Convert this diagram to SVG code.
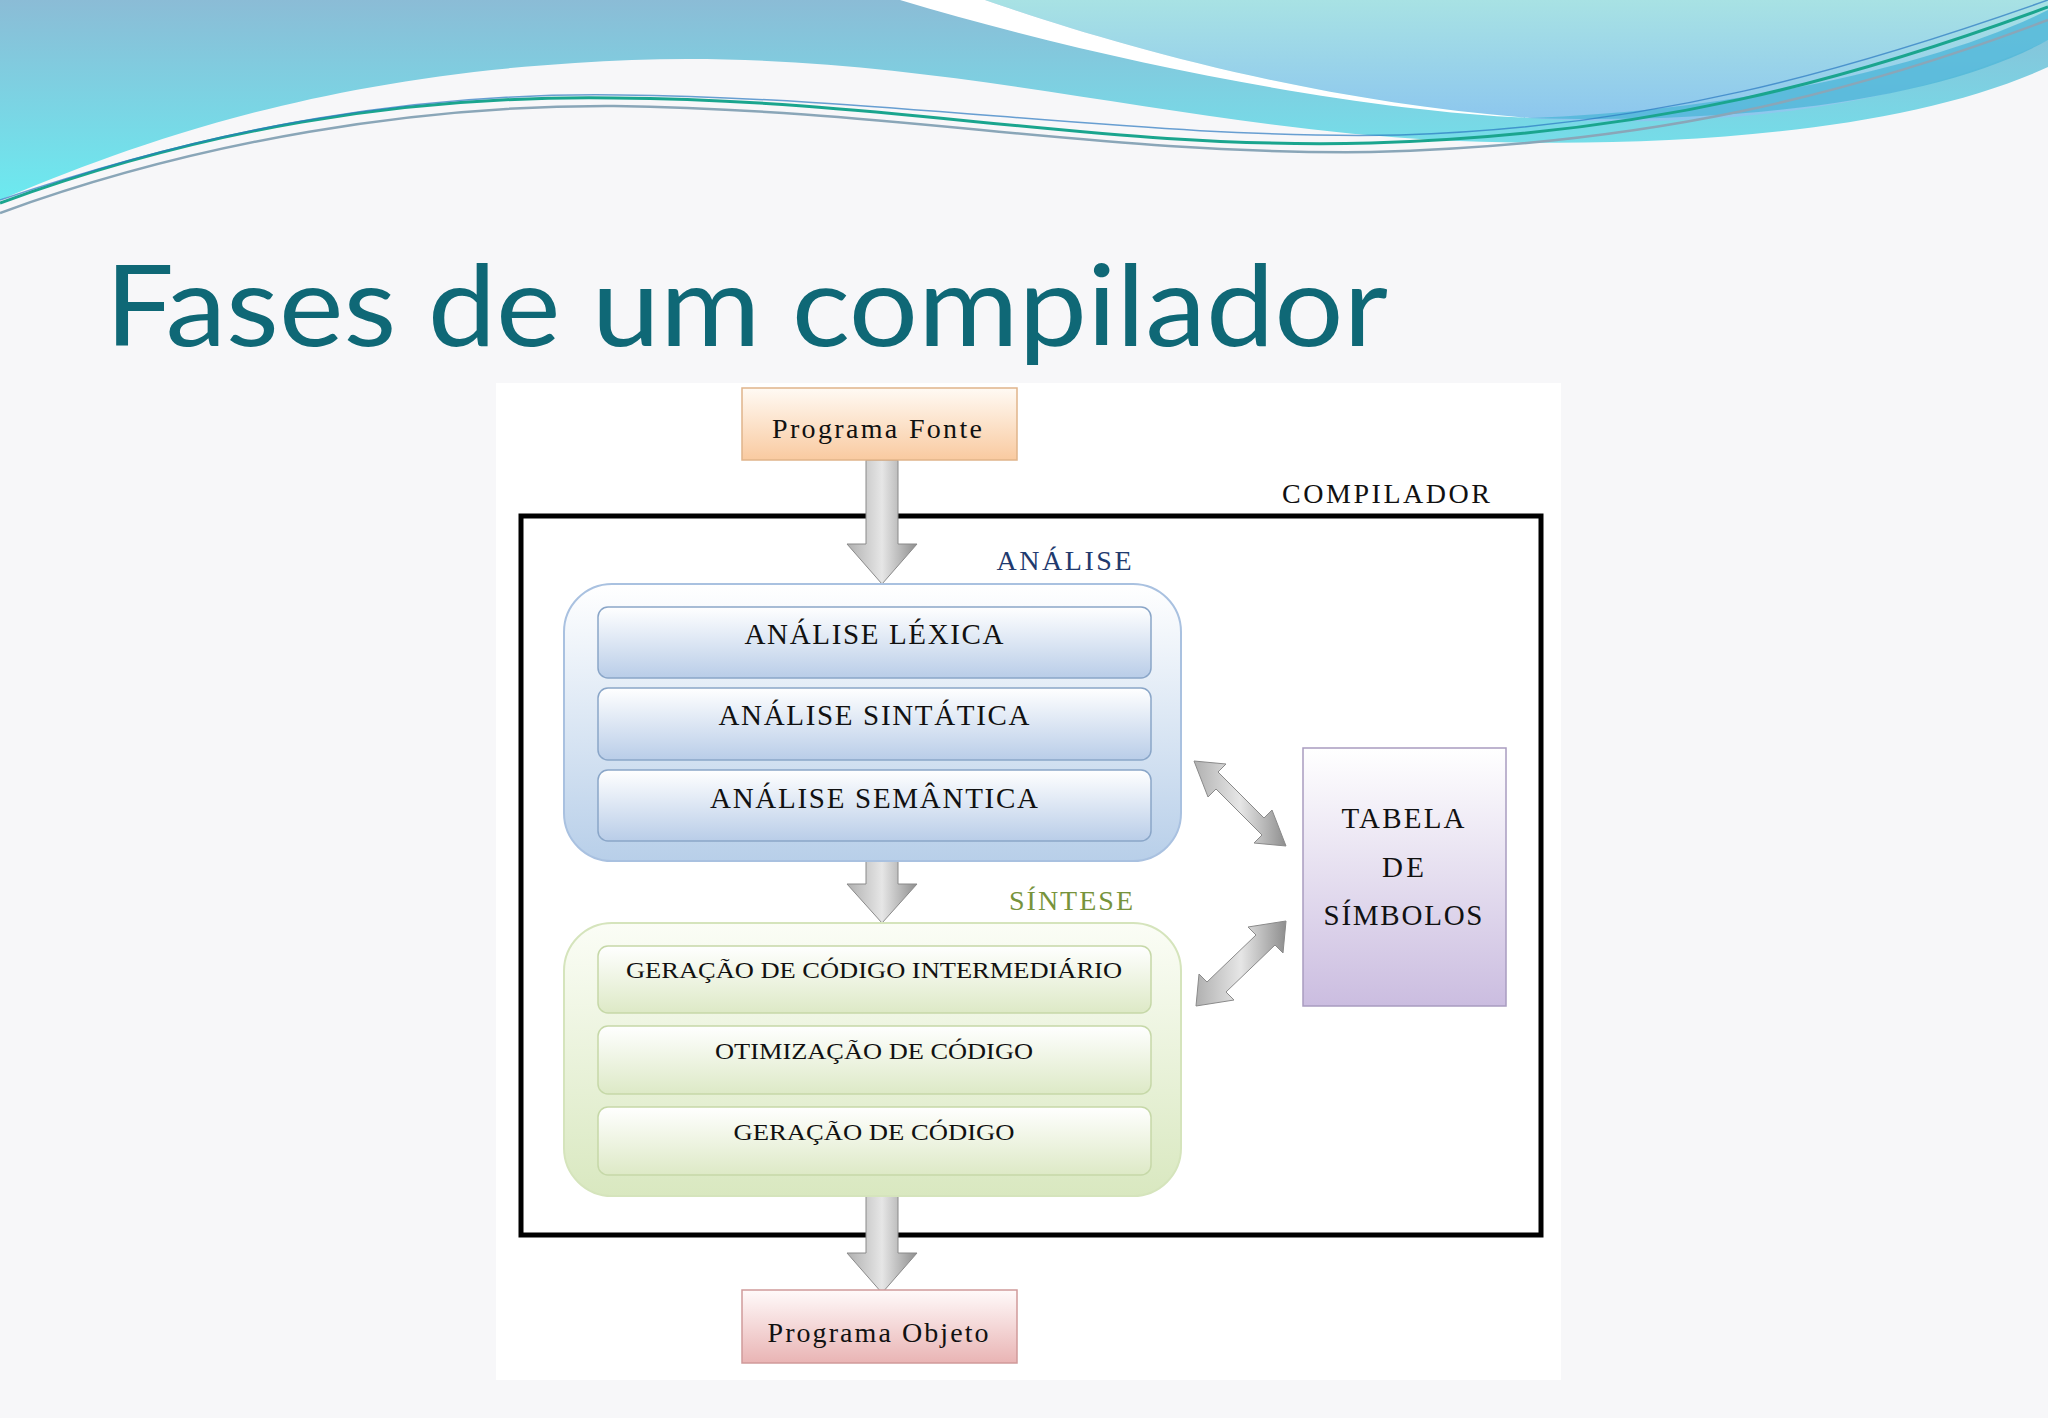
<svg xmlns="http://www.w3.org/2000/svg" width="2048" height="1418" viewBox="0 0 2048 1418">
<defs>
<linearGradient id="bgTop" x1="0" y1="0" x2="0" y2="1"><stop offset="0" stop-color="#8bbcd6"/><stop offset="1" stop-color="#6ceaf0"/></linearGradient>
<linearGradient id="bgTop2" x1="0" y1="0" x2="0" y2="1"><stop offset="0" stop-color="#a8e2e4"/><stop offset="1" stop-color="#8cc6ee"/></linearGradient>
<linearGradient id="gOrange" x1="0" y1="0" x2="0" y2="1"><stop offset="0" stop-color="#fffaf4"/><stop offset="1" stop-color="#f9caa0"/></linearGradient>
<linearGradient id="gPink" x1="0" y1="0" x2="0" y2="1"><stop offset="0" stop-color="#fffafa"/><stop offset="1" stop-color="#e9b4b4"/></linearGradient>
<linearGradient id="gLav" x1="0" y1="0" x2="0" y2="1"><stop offset="0" stop-color="#ffffff"/><stop offset="1" stop-color="#cbbde0"/></linearGradient>
<linearGradient id="gBlueC" x1="0" y1="0" x2="0" y2="1"><stop offset="0" stop-color="#ffffff"/><stop offset="1" stop-color="#b8cfe9"/></linearGradient>
<linearGradient id="gBlueB" x1="0" y1="0" x2="0" y2="1"><stop offset="0" stop-color="#ffffff"/><stop offset="1" stop-color="#b9cde8"/></linearGradient>
<linearGradient id="gGreenC" x1="0" y1="0" x2="0" y2="1"><stop offset="0" stop-color="#fbfdf6"/><stop offset="1" stop-color="#d9e8c0"/></linearGradient>
<linearGradient id="gGreenB" x1="0" y1="0" x2="0" y2="1"><stop offset="0" stop-color="#ffffff"/><stop offset="1" stop-color="#dde9c6"/></linearGradient>
<linearGradient id="gArrow" x1="0" y1="0" x2="1" y2="0"><stop offset="0" stop-color="#b0b0b0"/><stop offset="0.5" stop-color="#e6e6e6"/><stop offset="1" stop-color="#8e8e8e"/></linearGradient>
<style>
.t{font-family:"Liberation Serif","Times New Roman",serif;fill:#111;text-anchor:middle}
.sub{stroke:#8aa6c8;stroke-width:1.5}
.subg{stroke:#c6d8a8;stroke-width:1.5}
.arr{fill:url(#gArrow);stroke:#8a8a8a;stroke-width:1}
</style>
</defs>
<rect width="2048" height="1418" fill="#f7f7f9"/>
<path d="M0,0 H2048 V67 C1900,135 1650,150 1437,140 C1150,125 900,40 575,63 C300,80 120,150 0,200 Z" fill="url(#bgTop)"/>
<path d="M985,0 H2048 V40 C1900,110 1700,130 1530,118 C1300,100 1100,40 985,0 Z" fill="url(#bgTop2)"/>
<path d="M900,0 H985 C1100,40 1300,100 1530,118 C1350,110 1100,60 900,0 Z" fill="#ffffff"/>
<path d="M1530,118 C1750,110 1950,60 2048,10 V40 C1950,95 1760,125 1530,118 Z" fill="#4fb6d8" opacity="0.8"/>
<path d="M0,203 C200,130 400,95 614,98 C900,100 1100,150 1371,143 C1650,135 1850,80 2048,7" fill="none" stroke="#1aa58e" stroke-width="3"/>
<path d="M0,213 C200,140 420,105 614,106 C900,110 1100,155 1371,152 C1650,145 1850,95 2048,20" fill="none" stroke="#8aa6b8" stroke-width="2.5"/>
<path d="M0,200 C220,125 420,92 620,95 C900,98 1150,140 1400,135 C1650,128 1850,70 2048,0" fill="none" stroke="#2a78c0" stroke-width="1.5" opacity="0.7"/>
<text x="105" y="346" font-family="Lato,'Open Sans',sans-serif" font-size="112" fill="#0f6876" textLength="1283" lengthAdjust="spacingAndGlyphs">Fases de um compilador</text>
<rect x="496" y="383" width="1065" height="997" fill="#ffffff"/>
<g id="compilador">
<rect x="521" y="516" width="1020" height="719" fill="none" stroke="#000" stroke-width="5"/>
<text class="t" x="1386" y="503" font-size="28" textLength="208">COMPILADOR</text>
</g>
<g id="connectors">
<path class="arr" d="M866,460 H898 V544 H917 L882,584 L847,544 H866 Z"/>
<path class="arr" d="M866,861 H898 V884 H917 L882,923 L847,884 H866 Z"/>
<path class="arr" d="M866,1196 H898 V1253 H917 L882,1293 L847,1253 H866 Z"/>
<path class="arr" d="M1194,761 L1226,764 L1218,772 L1264,818 L1272,810 L1286,846 L1254,843 L1262,835 L1216,789 L1208,797 Z"/>
<path class="arr" d="M1286,921 L1283,953 L1275,945 L1226,992 L1234,1000 L1196,1006 L1199,974 L1207,982 L1256,935 L1248,927 Z"/>
</g>
<g id="programa-fonte">
<rect x="742" y="388" width="275" height="72" fill="url(#gOrange)" stroke="#e0b48a" stroke-width="1.5"/>
<text class="t" x="877" y="438" font-size="28" textLength="210">Programa Fonte</text>
</g>
<g id="analise">
<rect x="564" y="584" width="617" height="277" rx="48" fill="url(#gBlueC)" stroke="#a9c1e0" stroke-width="2"/>
<text x="1064" y="570" font-family="'Liberation Serif',serif" font-size="28" fill="#1f3a6e" text-anchor="middle" textLength="135">ANÁLISE</text>
</g>
<g id="analise-lexica"><rect class="sub" x="598" y="607" width="553" height="71" rx="10" fill="url(#gBlueB)"/><text class="t" x="874" y="644" font-size="29" textLength="259">ANÁLISE LÉXICA</text></g>
<g id="analise-sintatica"><rect class="sub" x="598" y="688" width="553" height="72" rx="10" fill="url(#gBlueB)"/><text class="t" x="874" y="725" font-size="29" textLength="311">ANÁLISE SINTÁTICA</text></g>
<g id="analise-semantica"><rect class="sub" x="598" y="770" width="553" height="71" rx="10" fill="url(#gBlueB)"/><text class="t" x="874" y="808" font-size="29" textLength="328">ANÁLISE SEMÂNTICA</text></g>
<g id="sintese">
<rect x="564" y="923" width="617" height="273" rx="48" fill="url(#gGreenC)" stroke="#d5e4bc" stroke-width="2"/>
<text x="1071" y="910" font-family="'Liberation Serif',serif" font-size="28" fill="#77933c" text-anchor="middle" textLength="124">SÍNTESE</text>
</g>
<g id="geracao-intermediario"><rect class="subg" x="598" y="946" width="553" height="67" rx="10" fill="url(#gGreenB)"/><text class="t" x="874" y="978" font-size="24" textLength="496" lengthAdjust="spacingAndGlyphs">GERAÇÃO DE CÓDIGO INTERMEDIÁRIO</text></g>
<g id="otimizacao"><rect class="subg" x="598" y="1026" width="553" height="68" rx="10" fill="url(#gGreenB)"/><text class="t" x="874" y="1059" font-size="24" textLength="318" lengthAdjust="spacingAndGlyphs">OTIMIZAÇÃO DE CÓDIGO</text></g>
<g id="geracao-codigo"><rect class="subg" x="598" y="1107" width="553" height="68" rx="10" fill="url(#gGreenB)"/><text class="t" x="874" y="1140" font-size="24" textLength="281" lengthAdjust="spacingAndGlyphs">GERAÇÃO DE CÓDIGO</text></g>
<g id="tabela">
<rect x="1303" y="748" width="203" height="258" fill="url(#gLav)" stroke="#a99cc0" stroke-width="1.5"/>
<text class="t" x="1403" y="828" font-size="29" textLength="123">TABELA</text>
<text class="t" x="1403" y="877" font-size="29" textLength="42">DE</text>
<text class="t" x="1403" y="925" font-size="29" textLength="159">SÍMBOLOS</text>
</g>
<g id="programa-objeto">
<rect x="742" y="1290" width="275" height="73" fill="url(#gPink)" stroke="#d09a9a" stroke-width="1.5"/>
<text class="t" x="878" y="1342" font-size="28" textLength="221">Programa Objeto</text>
</g>
</svg>
